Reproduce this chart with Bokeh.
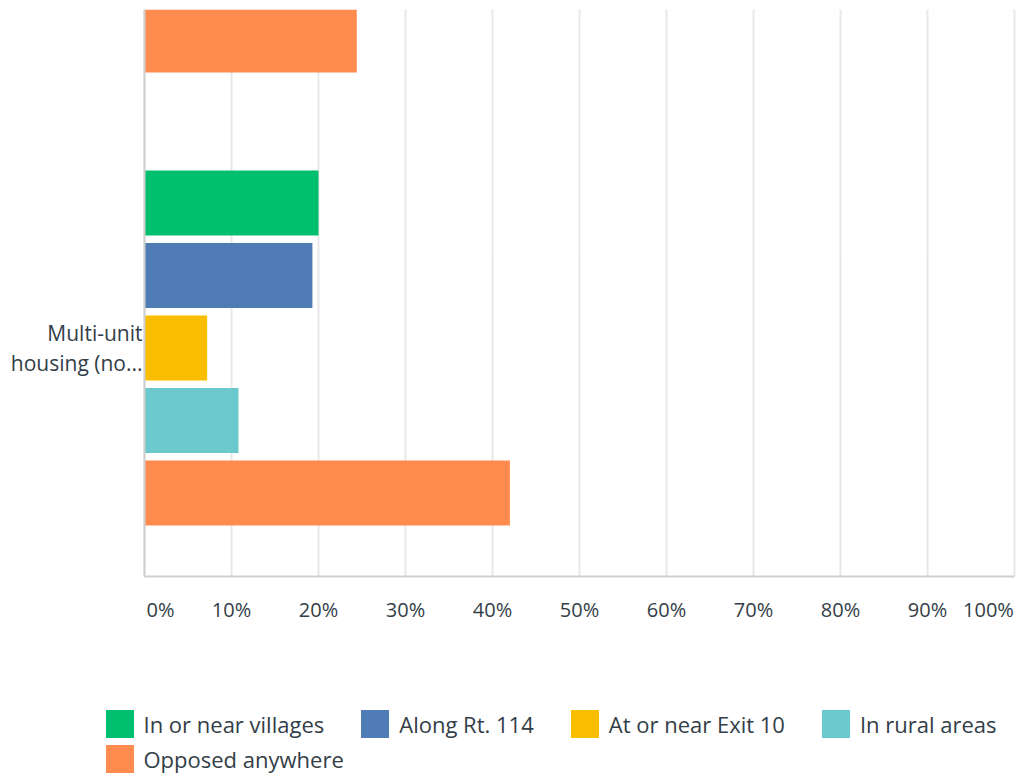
from bokeh.plotting import figure
from bokeh.models import (Range1d, FixedTicker, ColumnDataSource, Legend, LegendItem,
                          BoxAnnotation)
from bokeh.transform import dodge
from bokeh.embed import file_html
from bokeh.resources import INLINE

# ---- data ----
categories = ["(previous question, cut off)", "Multi-unit housing (no..."]
category_tick_labels = ["", "Multi-unit\nhousing (no..."]
series_names = ["In or near villages", "Along Rt. 114", "At or near Exit 10",
                "In rural areas", "Opposed anywhere"]
series_colors = ["#00bf6f", "#507cb6", "#f9be00", "#6bc8cd", "#ff8b4f"]
nan = float("nan")
in_or_near_villages = [nan, 20.0]
along_rt_114 = [nan, 19.3]
at_or_near_exit_10 = [nan, 7.2]
in_rural_areas = [nan, 10.8]
opposed_anywhere = [24.4, 42.0]
x_ticks = [0, 10, 20, 30, 40, 50, 60, 70, 80, 90, 100]
x_tick_labels = ["0%", "10%", "20%", "30%", "40%", "50%", "60%", "70%", "80%", "90%", "100%"]

TEXT = "#333e48"
FONT = "Open Sans"

# ---- layout constants (pixels) ----
W, H = 1018, 776
FRAME_LEFT, TOP = 0, 9            # frame also holds the category label and legend
AXIS_X0, AXIS_X1 = 144, 1014      # where 0% and 100% fall
AXIS_Y = 576                      # bottom axis line
CAT_PX = 453                      # height of one category band
LEGEND_X = 101.5                  # left edge of the legend strip
px_per_unit = (AXIS_X1 - AXIS_X0) / (x_ticks[-1] - x_ticks[0])
x_start = x_ticks[0] - (AXIS_X0 - FRAME_LEFT) / px_per_unit
x_end = x_ticks[-1] + (W - AXIS_X1) / px_per_unit
PLOT_TOP_VAL = 0.2527
AXIS_VAL = PLOT_TOP_VAL + (AXIS_Y - TOP) / CAT_PX
BOTTOM_VAL = AXIS_VAL + (H - AXIS_Y) / CAT_PX

positions = list(range(len(categories)))
src = ColumnDataSource(dict(y=positions,
                            s0=in_or_near_villages, s1=along_rt_114,
                            s2=at_or_near_exit_10, s3=in_rural_areas,
                            s4=opposed_anywhere))

p = figure(width=W, height=H, output_backend="svg", toolbar_location=None,
           x_range=Range1d(x_start, x_end), y_range=Range1d(BOTTOM_VAL, PLOT_TOP_VAL),
           min_border_left=FRAME_LEFT, min_border_right=0, min_border_top=TOP,
           min_border_bottom=0)
p.outline_line_color = None

# grid, hidden below the axis line
p.xgrid.ticker = FixedTicker(ticks=x_ticks)
p.xgrid.grid_line_color = "#e8e8e8"
p.xgrid.grid_line_width = 2
p.ygrid.grid_line_color = None
p.add_layout(BoxAnnotation(top=AXIS_VAL, bottom=BOTTOM_VAL, fill_color="white",
                           fill_alpha=1, line_color=None, level="underlay"))

renderers = []
for j, name in enumerate(series_names):
    off = (j - 2) * 0.16
    r = p.hbar(y=dodge("y", off, range=p.y_range), left=0, right="s%d" % j,
               height=0.1435, source=src, fill_color=series_colors[j], line_color=None)
    renderers.append(r)

# x axis: fixed at the bottom of the bar area; end labels pulled inside
end_shift_px = {0: 16, len(x_ticks) - 1: -26}
label_pos = [round(t + end_shift_px.get(i, 0) / px_per_unit, 3) for i, t in enumerate(x_ticks)]
xa = p.xaxis[0]
xa.fixed_location = AXIS_VAL
xa.bounds = (x_ticks[0], x_ticks[-1])
xa.ticker = FixedTicker(ticks=label_pos)
xa.major_label_overrides = {v: l for v, l in zip(label_pos, x_tick_labels)}
xa.axis_line_color = "#cfcfcf"
xa.axis_line_width = 2
xa.major_tick_line_color = None
xa.minor_tick_line_color = None
xa.major_label_standoff = 13
xa.major_label_text_font = FONT
xa.major_label_text_font_size = "20px"
xa.major_label_text_color = TEXT

# y axis: fixed at 0%
ya = p.yaxis[0]
ya.fixed_location = x_ticks[0]
ya.bounds = (PLOT_TOP_VAL, AXIS_VAL)
ya.ticker = FixedTicker(ticks=positions)
ya.major_label_overrides = {i: l for i, l in zip(positions, category_tick_labels)}
ya.axis_line_color = "#cfcfcf"
ya.axis_line_width = 2
ya.major_tick_line_color = None
ya.minor_tick_line_color = None
ya.major_label_standoff = -4
ya.major_label_text_font = FONT
ya.major_label_text_font_size = "21px"
ya.major_label_text_color = TEXT
ya.major_label_text_line_height = 1.05

# legend: two rows
items = [LegendItem(label=n, renderers=[r]) for n, r in zip(series_names, renderers)]
common = dict(orientation="horizontal", glyph_width=35, glyph_height=35,
              label_standoff=7, spacing=33, padding=0, margin=0,
              border_line_color=None, background_fill_alpha=0,
              label_text_font=FONT, label_text_font_size="22px", label_text_color=TEXT)
p.add_layout(Legend(items=items[:4], location=(LEGEND_X - FRAME_LEFT, 35), **common), "center")
p.add_layout(Legend(items=items[4:], location=(LEGEND_X - FRAME_LEFT, 0), **common), "center")

open("out.html", "w").write(file_html(p, INLINE))
